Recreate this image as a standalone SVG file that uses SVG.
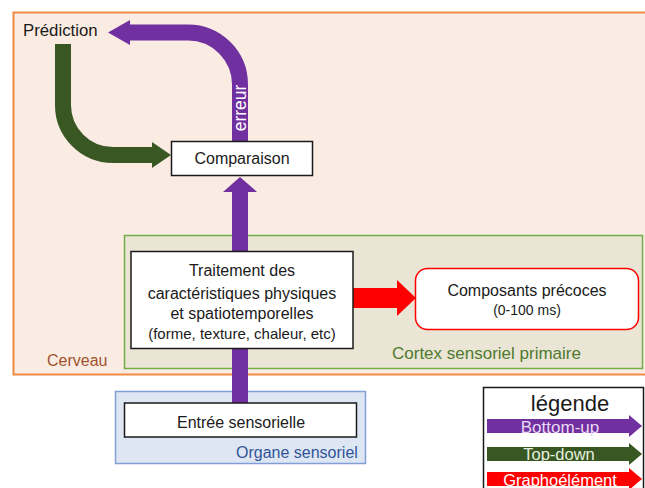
<svg xmlns="http://www.w3.org/2000/svg" width="645" height="488" viewBox="0 0 645 488">
<style>
text{font-family:"Liberation Sans",Arial,sans-serif;fill:#1a1a1a}
.box{fill:#fff;stroke:#1a1a1a;stroke-width:1.5}
.c{text-anchor:middle}
.pu{fill:none;stroke:#7030a0;stroke-width:16}
.gr{fill:none;stroke:#385723;stroke-width:16}
.wt{fill:#fff}
</style>
<rect width="645" height="488" fill="#fff"/>
<g id="cerveau">
<rect x="13.5" y="12.5" width="640" height="362" fill="#fbece3" stroke="#f08a45" stroke-width="2"/>
<text x="47" y="366" font-size="16" style="fill:#a0522d">Cerveau</text>
</g>
<g id="cortex">
<rect x="124.5" y="235.5" width="518" height="133" fill="#ebe5d5" stroke="#70ad47" stroke-width="1.5"/>
<text x="392" y="359" font-size="17" style="fill:#4e7a2e">Cortex sensoriel primaire</text>
</g>
<g id="organe">
<rect x="115.5" y="391.5" width="250" height="72" fill="#dfe6f3" stroke="#7f9fd6" stroke-width="1.5"/>
<text x="236" y="458" font-size="16" style="fill:#2f5597">Organe sensoriel</text>
</g>
<g id="connectors">
<path class="pu" d="M240,141 V84.5 A52,52 0 0 0 188,32.5 H129"/>
<polygon points="130,20 108,32.5 130,45" fill="#7030a0"/>
<text transform="translate(246,108) rotate(-90)" class="c wt" font-size="17.5">erreur</text>
<path class="gr" d="M63,44 V105 A50,50 0 0 0 113,155 H153"/>
<polygon points="152,142 171,155 152,168" fill="#385723"/>
<path class="pu" d="M240,403 V191"/>
<polygon points="223,192 240,177 257,192" fill="#7030a0"/>
<rect x="352" y="288" width="46" height="20" fill="#ff0000"/>
<polygon points="397,280 416,298 397,316" fill="#ff0000"/>
</g>
<g id="prediction">
<text x="23" y="36" font-size="16.8">Prédiction</text>
</g>
<g id="comparaison">
<rect class="box" x="171.5" y="141.5" width="141" height="34"/>
<text x="242" y="164" class="c" font-size="16">Comparaison</text>
</g>
<g id="traitement">
<rect class="box" x="131" y="251.5" width="222" height="97"/>
<text x="242" y="276" class="c" font-size="16">Traitement des</text>
<text x="242" y="299" class="c" font-size="16">caractéristiques physiques</text>
<text x="242" y="319" class="c" font-size="16">et spatiotemporelles</text>
<text x="242" y="339" class="c" font-size="15">(forme, texture, chaleur, etc)</text>
</g>
<g id="composants">
<rect x="415.5" y="268.5" width="223" height="61" rx="12" fill="#fff" stroke="#ff0000" stroke-width="1.5"/>
<text x="527" y="296" class="c" font-size="16">Composants précoces</text>
<text x="527" y="315" class="c" font-size="14">(0-100 ms)</text>
</g>
<g id="entree">
<rect class="box" x="124.5" y="403" width="232" height="34"/>
<text x="241" y="428" class="c" font-size="16">Entrée sensorielle</text>
</g>
<g id="legende">
<rect x="483.5" y="387.5" width="160" height="110" fill="#fff" stroke="#1a1a1a" stroke-width="1.5"/>
<text x="570" y="411" class="c" font-size="22">légende</text>
<rect x="487" y="419" width="143" height="14" fill="#7030a0"/>
<polygon points="629,415 642,426 629,437" fill="#7030a0"/>
<text x="560" y="433" class="c" font-size="17" style="fill:#ead9f5">Bottom-up</text>
<rect x="487" y="447" width="143" height="14" fill="#385723"/>
<polygon points="629,443 642,454 629,465" fill="#385723"/>
<text x="559" y="460" class="c" font-size="16.5" style="fill:#e6eedf">Top-down</text>
<rect x="487" y="472" width="143" height="14" fill="#ff0000"/>
<polygon points="629,468 642,479 629,490" fill="#ff0000"/>
<text x="560" y="486" class="c" font-size="16.5" style="fill:#fff">Graphoélément</text>
</g>
</svg>
